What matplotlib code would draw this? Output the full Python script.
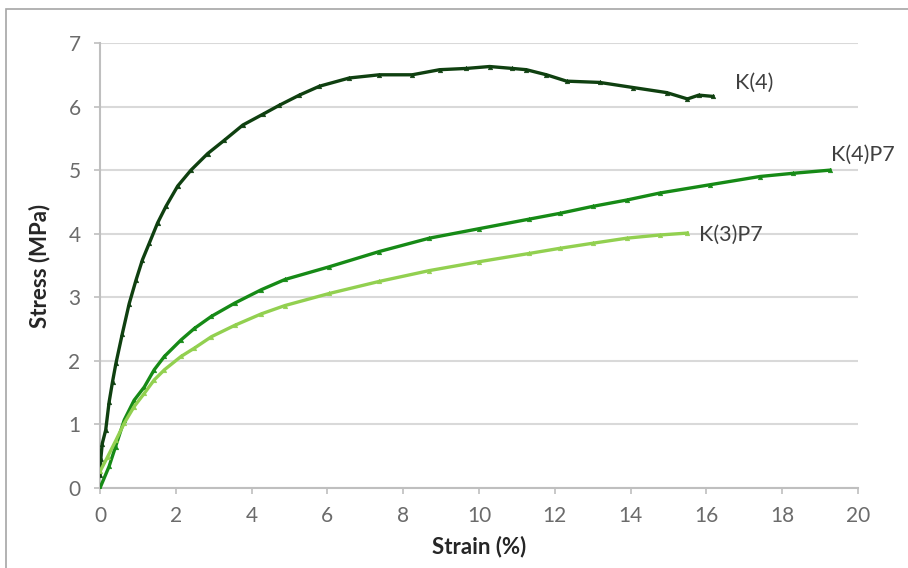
import matplotlib
matplotlib.use("Agg")
import matplotlib.pyplot as plt
from matplotlib.patches import Rectangle

# ---- data ----
k4_strain = [0.0, 0.02, 0.06, 0.15, 0.24, 0.33, 0.42, 0.59, 0.77, 0.95, 1.12, 1.30, 1.52,
             1.74, 2.05, 2.40, 2.84, 3.28, 3.77, 4.30, 4.73, 5.26, 5.79, 6.58, 7.37, 8.24,
             8.96, 9.67, 10.28, 10.88, 11.25, 11.78, 12.31, 13.18, 14.06, 14.95, 15.50,
             15.80, 16.17]
k4_stress = [0.20, 0.45, 0.70, 0.91, 1.35, 1.67, 1.96, 2.43, 2.90, 3.27, 3.59, 3.85, 4.17,
             4.43, 4.75, 5.00, 5.26, 5.47, 5.71, 5.88, 6.02, 6.18, 6.32, 6.45, 6.50, 6.50,
             6.58, 6.60, 6.63, 6.60, 6.58, 6.50, 6.40, 6.38, 6.30, 6.22, 6.12, 6.18, 6.16]

k4p7_strain = [0.0, 0.24, 0.41, 0.64, 0.90, 1.17, 1.43, 1.70, 2.14, 2.49, 2.94, 3.56, 4.26,
               4.88, 6.05, 7.37, 8.69, 10.01, 11.33, 12.13, 13.00, 13.90, 14.77, 16.09,
               17.41, 18.28, 19.26]
k4p7_stress = [0.0, 0.34, 0.65, 1.07, 1.38, 1.59, 1.86, 2.07, 2.33, 2.51, 2.70, 2.91, 3.12,
               3.28, 3.48, 3.72, 3.93, 4.08, 4.23, 4.32, 4.43, 4.53, 4.64, 4.77, 4.90,
               4.95, 5.00]

k3p7_strain = [0.0, 0.20, 0.42, 0.64, 0.90, 1.17, 1.43, 1.70, 2.14, 2.49, 2.94, 3.56, 4.26,
               4.88, 6.05, 7.37, 8.69, 10.01, 11.33, 12.13, 13.00, 13.90, 14.77, 15.50]
k3p7_stress = [0.26, 0.49, 0.75, 1.02, 1.28, 1.49, 1.70, 1.86, 2.07, 2.20, 2.38, 2.56, 2.74,
               2.87, 3.06, 3.25, 3.42, 3.56, 3.69, 3.77, 3.85, 3.93, 3.98, 4.01]

series_names = ["K(4)", "K(4)P7", "K(3)P7"]
x_ticks = [0, 2, 4, 6, 8, 10, 12, 14, 16, 18, 20]
y_ticks = [0, 1, 2, 3, 4, 5, 6, 7]

# ---- styling ----
plt.rcParams['font.family'] = ['Lato', 'DejaVu Sans']
W, H = 908, 568
fig = plt.figure(figsize=(W / 100, H / 100), dpi=100)
ax = fig.add_axes([100 / W, 1 - 488 / H, 758 / W, 445 / H])

# figure border (screenshot frame)
fig.patches.append(Rectangle((6 / W, -0.1), 1.2, 1 - 9 / H + 0.1, transform=fig.transFigure,
                             fill=False, edgecolor='#a6a6a6', linewidth=1.2))

colors = ['#0f4010', '#168a16', '#92d050']
data = [(k4_strain, k4_stress), (k4p7_strain, k4p7_stress), (k3p7_strain, k3p7_stress)]
for (xs, ys), c in zip(data, colors):
    ax.plot(xs, ys, color=c, linewidth=2.4, marker='^', markersize=3.4,
            markeredgewidth=0.3, solid_joinstyle='round', zorder=3)

# labels at curve ends
lab_kw = dict(fontsize=15.5, color='#404040', va='center', ha='left', clip_on=False)
ax.text(16.75, 6.37, series_names[0], **lab_kw)
ax.text(19.3, 5.24, series_names[1], **lab_kw)
ax.text(15.8, 3.98, series_names[2], **lab_kw)

ax.set_xlim(0, 20)
ax.set_ylim(0, 7)
ax.set_xticks(x_ticks)
ax.set_yticks(y_ticks)
ax.grid(axis='y', color='#d9d9d9', linewidth=1.5, zorder=0)
ax.set_axisbelow(True)
for s in ['top', 'right']:
    ax.spines[s].set_visible(False)
for s in ['left', 'bottom']:
    ax.spines[s].set_color('#bfbfbf')
    ax.spines[s].set_linewidth(1.5)
ax.tick_params(axis='both', colors='#bfbfbf', labelcolor='#6b6b6b', labelsize=15,
               length=4, width=1.2)
ax.tick_params(axis='y', pad=10)
ax.tick_params(axis='x', pad=9)

ax.set_xlabel('Strain (%)', fontsize=16, fontweight='bold', color='#262626', labelpad=7)
ax.set_ylabel('Stress (MPa)', fontsize=16, fontweight='bold', color='#262626', labelpad=13)

fig.savefig('out.png', dpi=100)
